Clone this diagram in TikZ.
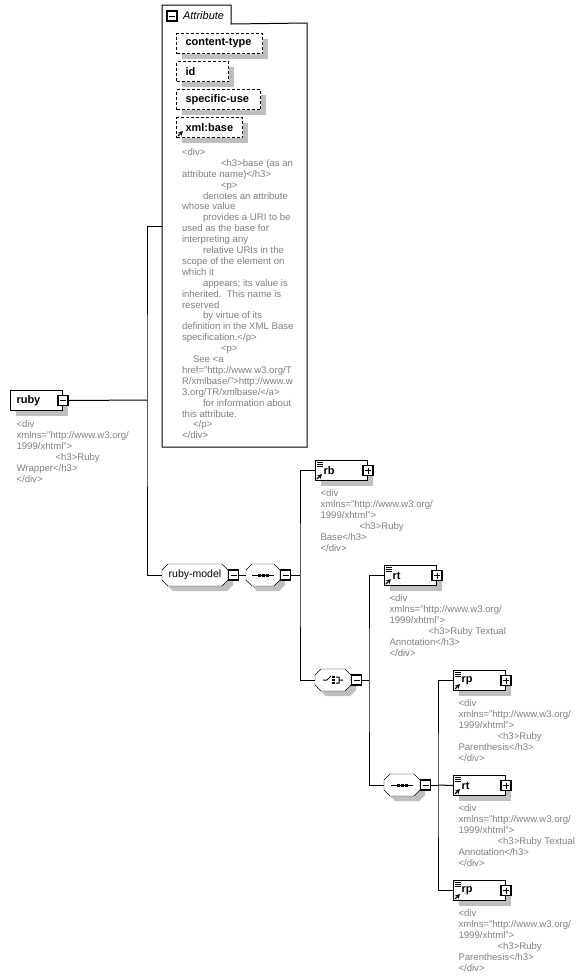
\documentclass[tikz,border=0pt]{standalone}
\usepackage{fontspec}
\setmainfont{Liberation Sans}
\usetikzlibrary{positioning,shadows,backgrounds}

\tikzset{
  shd/.style={drop shadow={shadow xshift=5pt,shadow yshift=-5pt,fill=black!25,opacity=1}},
  elem/.style={draw,fill=white,shd,anchor=north west,minimum height=20pt,inner ysep=0pt,
    inner xsep=6pt,text width=#1,align=left,font=\fontsize{11}{13}\selectfont\bfseries},
  refel/.style={elem=36pt,inner xsep=8pt},
  attrib/.style={elem=#1,inner xsep=9pt,dash pattern=on 3pt off 2pt},
  grp/.style={minimum height=21pt,minimum width=#1,inner sep=0pt,anchor=west,
    font=\fontsize{10.5}{12}\selectfont},
  pm/.style={draw,fill=white,line width=1.2pt,minimum size=10pt,inner sep=0pt},
  minus/.style={pm,path picture={\draw[line width=1pt] ([xshift=2pt]path picture bounding box.west)
    -- ([xshift=-2pt]path picture bounding box.east);}},
  plus/.style={pm,path picture={\draw[line width=1pt] ([xshift=2pt]path picture bounding box.west)
    -- ([xshift=-2pt]path picture bounding box.east) ([yshift=-2pt]path picture bounding box.north)
    -- ([yshift=2pt]path picture bounding box.south);}},
  ann/.style={text=black!50,font=\fontsize{9.6}{11}\selectfont,align=left,inner sep=0pt}
}
\newcommand\indh{\hspace*{39pt}}
\newcommand\indd{\hspace*{21pt}}
\newcommand\inds{\hspace*{11pt}}
% octagon outline behind a group node
\newcommand\octa[1]{%
  \begin{scope}[on background layer]
  \filldraw[fill=white,shd] ([xshift=6pt]#1.north west) -- ([xshift=-6pt]#1.north east)
    -- ([yshift=-6pt]#1.north east) -- ([yshift=6pt]#1.south east)
    -- ([xshift=-6pt]#1.south east) -- ([xshift=6pt]#1.south west)
    -- ([yshift=6pt]#1.south west) -- ([yshift=-6pt]#1.north west) -- cycle;
  \end{scope}}
% reference marks on an element box
\newcommand\refarrow[1]{\draw[line width=1.2pt,-stealth] ([shift={(2,-2)}]#1.south west) -- ++(5,-5);}
\newcommand\refmark[1]{%
  \foreach \d in {2,4,6}
    \draw[line width=0.7pt] ([shift={(2,\d)}]#1.north west) -- ++(6,0);
  \refarrow{#1}}
% compositor glyphs
\newcommand\seqmark[1]{%
  \draw[line width=1pt] ([xshift=-11pt]#1.center) -- ([xshift=11pt]#1.center);
  \foreach \d in {-4,0,4}
    \fill ([xshift=\d pt]#1.center) +(-1.5,-1.5) rectangle +(1.5,1.5);}
\newcommand\choicemark[1]{%
  \draw[line width=1pt,shift={(#1.center)}] (-10,0) -- (-6,0) -- (-2,-4)
    (3,-3) -- (6,-3) -- (6,3) -- (3,3) (6,0) -- (10,0);
  \foreach \d in {-3,0,3}
    \fill[shift={(#1.center)}] (-0.8,\d-1) rectangle (1.6,\d+1);}

\begin{document}
\begin{tikzpicture}[x=1pt,y=-1pt,line width=1pt]
\useasboundingbox (0,0) rectangle (587,978);

% Draw attribute group
\node[anchor=north west,minimum width=68pt,minimum height=18pt,inner sep=0pt] (atab) at (162,5) {};
\node[anchor=north west,minimum width=144pt,minimum height=423pt,inner sep=0pt] (attr) at (162,23) {};
\filldraw[fill=white] (atab.south east) -- (attr.north east) -- (attr.south east)
  -- (attr.south west) -- (atab.north west) -- (atab.north east) -- cycle;
\node[minus] (atabx) at (172,16) {};
\node[right=5pt of atabx,inner sep=0pt,font=\fontsize{11}{13}\selectfont\itshape] (atabl) {Attribute};
\node[attrib=68pt] (ctype) at (176,33) {content-type};
\node[attrib=34pt] (aid) at (176,61) {id};
\node[attrib=66pt] (suse) at (176,89) {specific-use};
\node[attrib=48pt] (xbase) at (176,117) {xml:base};
\refarrow{xbase}
\node[ann,anchor=north west,font=\fontsize{9.6}{10.9}\selectfont] (xbasedoc) at (181.5,148) {<div>\\
\indh<h3>base (as an\\
attribute name)</h3>\\
\indh<p>\\
\indd denotes an attribute\\
whose value\\
\indd provides a URI to be\\
used as the base for\\
interpreting any\\
\indd relative URIs in the\\
scope of the element on\\
which it\\
\indd appears; its value is\\
inherited.\ \ This name is\\
reserved\\
\indd by virtue of its\\
definition in the XML Base\\
specification.</p>\\
\indh<p>\\
\inds See <a\\
href="http://www.w3.org/T\\
R/xmlbase/">http://www.w\\
3.org/TR/xmlbase/</a>\\
\indd for information about\\
this attribute.\\
\inds</p>\\
</div>};

% Draw root element
\node[elem=40pt] (ruby) at (10,390) {ruby};
\node[minus] (rubyx) at (ruby.east) {};
\node[ann,below right=9pt and 6pt of ruby.south west] (rubydoc) {<div\\
xmlns="http://www.w3.org/\\
1999/xhtml">\\
\indh<h3>Ruby\\
Wrapper</h3>\\
</div>};

% Draw group and compositors
\node[grp=65pt] (rmodel) at (162,575) {ruby-model};
\octa{rmodel}
\node[minus,anchor=west] (rmodelx) at (rmodel.east) {};
\node[grp=33pt] (seqa) at (246,575) {};
\octa{seqa}
\node[minus,anchor=west] (seqax) at (seqa.east) {};
\seqmark{seqa}
\node[grp=35pt] (choice) at (315,680) {};
\octa{choice}
\node[minus,anchor=west] (choicex) at (choice.east) {};
\choicemark{choice}
\node[grp=35pt] (seqb) at (384,785) {};
\octa{seqb}
\node[minus,anchor=west] (seqbx) at (seqb.east) {};
\seqmark{seqb}

% Draw child elements
\node[refel] (rb) at (315,460) {rb};
\node[plus] (rbx) at (rb.east) {};
\refmark{rb}
\node[ann,below right=8pt and 5pt of rb.south west] (rbdoc) {<div\\
xmlns="http://www.w3.org/\\
1999/xhtml">\\
\indh<h3>Ruby\\
Base</h3>\\
</div>};
\node[refel] (rta) at (384,565) {rt};
\node[plus] (rtax) at (rta.east) {};
\refmark{rta}
\node[ann,below right=8pt and 5pt of rta.south west] (rtadoc) {<div\\
xmlns="http://www.w3.org/\\
1999/xhtml">\\
\indh<h3>Ruby Textual\\
Annotation</h3>\\
</div>};
\node[refel] (rpa) at (453,670) {rp};
\node[plus] (rpax) at (rpa.east) {};
\refmark{rpa}
\node[ann,below right=8pt and 5pt of rpa.south west] (rpadoc) {<div\\
xmlns="http://www.w3.org/\\
1999/xhtml">\\
\indh<h3>Ruby\\
Parenthesis</h3>\\
</div>};
\node[refel] (rtb) at (453,775) {rt};
\node[plus] (rtbx) at (rtb.east) {};
\refmark{rtb}
\node[ann,below right=8pt and 5pt of rtb.south west] (rtbdoc) {<div\\
xmlns="http://www.w3.org/\\
1999/xhtml">\\
\indh<h3>Ruby Textual\\
Annotation</h3>\\
</div>};
\node[refel] (rpb) at (453,880) {rp};
\node[plus] (rpbx) at (rpb.east) {};
\refmark{rpb}
\node[ann,below right=8pt and 5pt of rpb.south west] (rpbdoc) {<div\\
xmlns="http://www.w3.org/\\
1999/xhtml">\\
\indh<h3>Ruby\\
Parenthesis</h3>\\
</div>};

% Draw connectors
\coordinate (ja) at (147,400);
\coordinate (attrin) at (162,226);
\draw (rubyx.east) -- (ja);
\draw (attrin) -| (ja) |- (rmodel.west);
\draw (rmodelx.east) -- (seqa.west);
\coordinate (jb) at (300,575);
\draw (seqax.east) -- (jb);
\draw (rb.west) -| (jb) |- (choice.west);
\coordinate (jc) at (369,680);
\draw (choicex.east) -- (jc);
\draw (rta.west) -| (jc) |- (seqb.west);
\coordinate (jd) at (438,785);
\draw (seqbx.east) -- (jd);
\draw (rpa.west) -| (jd) |- (rpb.west);
\draw (jd) -- (rtb.west);
\end{tikzpicture}
\end{document}
